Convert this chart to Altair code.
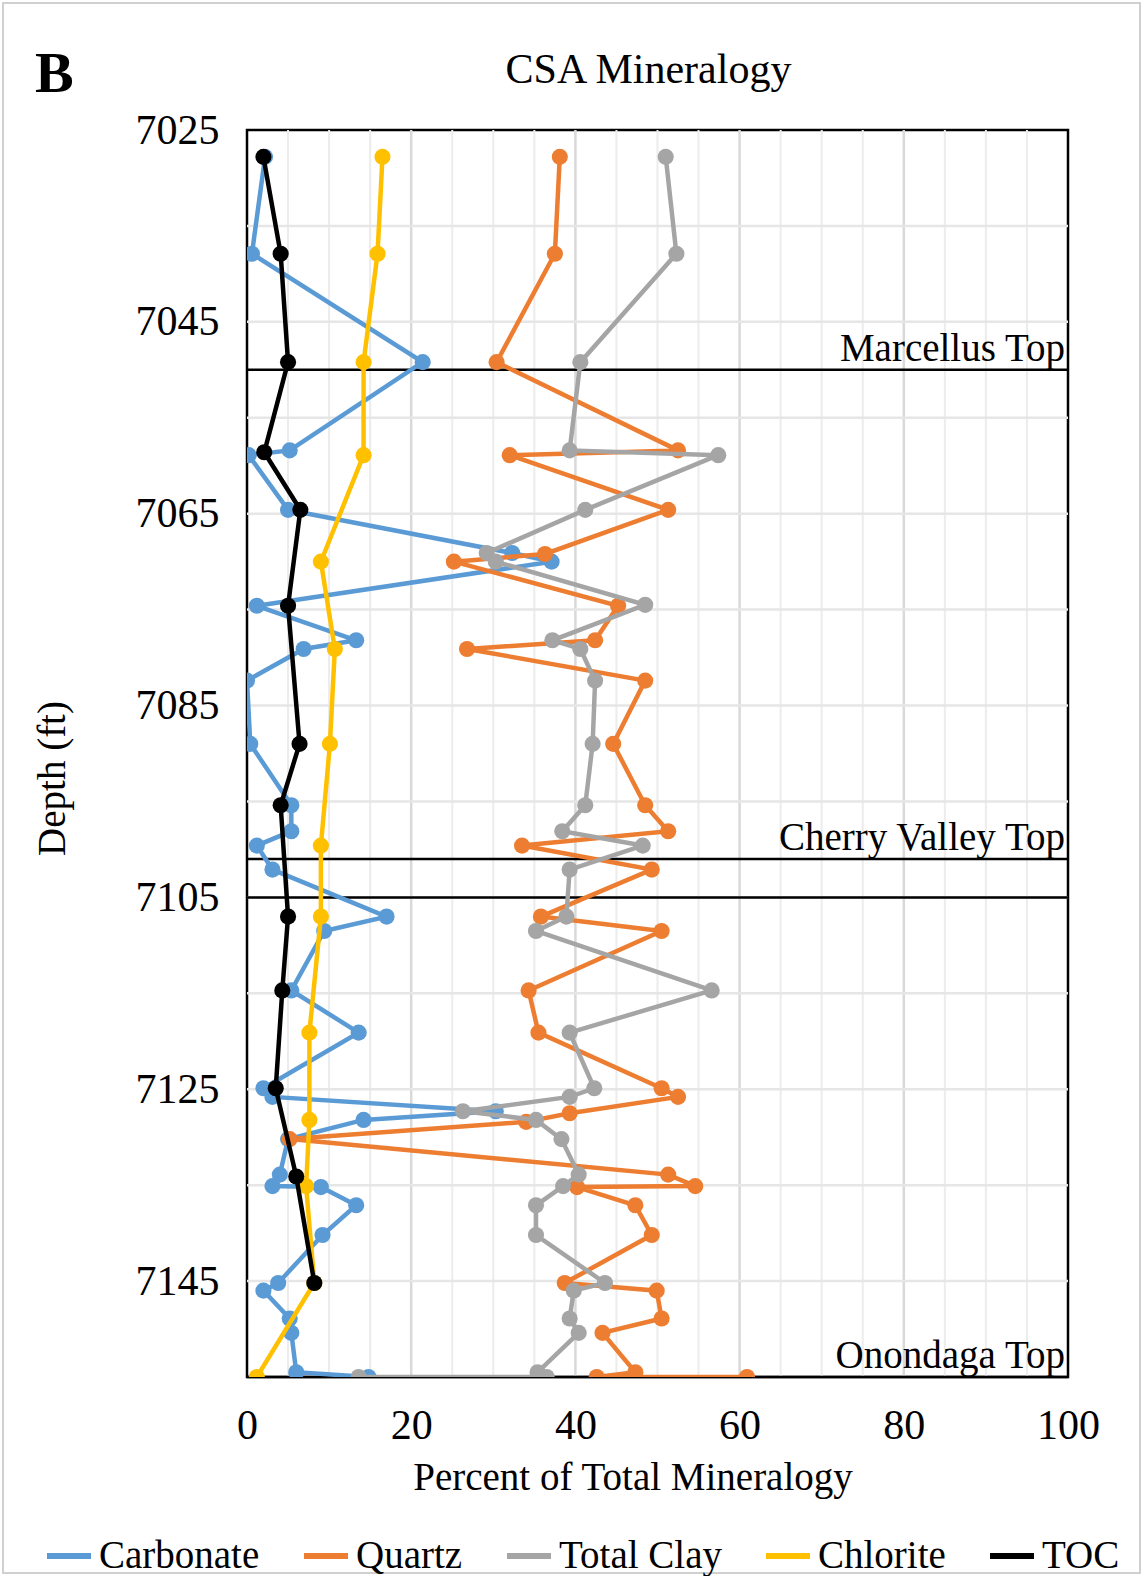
import altair as alt
import pandas as pd

# ---------------- data ----------------
SERIES = ["Carbonate", "Quartz", "Total Clay", "Chlorite", "TOC"]
COLORS = ["#5B9BD5", "#ED7D31", "#A5A5A5", "#FFC000", "#000000"]

carb_depth = [7027.8, 7037.9, 7049.2, 7058.4, 7058.9, 7064.6, 7069.1, 7070.0, 7074.6, 7078.2,
              7079.1, 7082.4, 7089.0, 7095.4, 7098.1, 7099.6, 7102.1, 7107.0, 7108.5, 7114.7,
              7119.1, 7124.9, 7125.8, 7127.3, 7128.2, 7130.2, 7133.9, 7135.1, 7135.2, 7137.1,
              7140.2, 7145.2, 7146.0, 7148.9, 7150.4, 7154.5, 7155.0]
carb_val = [2.2, 0.6, 21.4, 5.2, 0.2, 5.0, 32.3, 37.1, 1.2, 13.3,
            6.9, 0.0, 0.4, 5.4, 5.4, 1.2, 3.1, 17.0, 9.4, 5.4,
            13.6, 2.0, 3.1, 30.3, 14.2, 5.0, 4.0, 3.1, 9.0, 13.3,
            9.2, 3.8, 2.0, 5.2, 5.4, 6.0, 14.8]

qtz_depth = [7027.8, 7037.9, 7049.2, 7058.4, 7058.9, 7064.6, 7069.2, 7070.0, 7074.6, 7078.2,
             7079.1, 7082.4, 7089.0, 7095.4, 7098.1, 7099.6, 7102.1, 7107.0, 7108.5, 7114.7,
             7119.1, 7124.9, 7125.8, 7127.5, 7128.4, 7130.2, 7133.9, 7135.1, 7135.2, 7137.1,
             7140.2, 7145.2, 7146.0, 7148.9, 7150.4, 7154.5, 7155.0, 7155.0]
qtz_val = [38.1, 37.5, 30.4, 52.5, 32.0, 51.3, 36.3, 25.2, 45.2, 42.4,
           26.8, 48.5, 44.6, 48.5, 51.3, 33.5, 49.3, 35.8, 50.5, 34.3,
           35.5, 50.5, 52.5, 39.3, 34.0, 5.2, 51.3, 54.6, 40.2, 47.3,
           49.3, 38.7, 49.9, 50.5, 43.3, 47.3, 42.6, 60.9]

clay_depth = [7027.8, 7037.9, 7049.2, 7058.4, 7058.9, 7064.6, 7069.1, 7070.0, 7074.5, 7078.2,
              7079.1, 7082.4, 7089.0, 7095.4, 7098.1, 7099.6, 7102.1, 7107.0, 7108.5, 7114.7,
              7119.1, 7124.9, 7125.8, 7127.3, 7128.2, 7130.2, 7133.9, 7135.1, 7137.1, 7140.2,
              7145.2, 7146.0, 7148.9, 7150.4, 7154.5, 7155.0, 7155.0]
clay_val = [51.0, 52.3, 40.6, 39.3, 57.4, 41.2, 29.2, 30.3, 48.5, 37.2,
            40.6, 42.4, 42.1, 41.2, 38.4, 48.2, 39.3, 38.9, 35.2, 56.6,
            39.3, 42.3, 39.3, 26.3, 35.2, 38.3, 40.4, 38.5, 35.2, 35.2,
            43.6, 39.8, 39.3, 40.4, 35.4, 36.5, 13.6]

chl_depth = [7027.8, 7037.9, 7049.2, 7058.9, 7070.0, 7079.1, 7089.0, 7099.6, 7107.0, 7119.1,
             7128.2, 7135.1, 7145.2, 7155.0]
chl_val = [16.5, 15.9, 14.2, 14.2, 9.0, 10.7, 10.1, 9.0, 9.0, 7.6,
           7.6, 7.2, 8.2, 1.2]

toc_depth = [7027.8, 7037.9, 7049.2, 7058.6, 7064.6, 7074.6, 7089.0, 7095.4, 7107.0, 7114.7,
             7124.9, 7134.1, 7145.2]
toc_val = [2.0, 4.1, 5.0, 2.1, 6.5, 5.0, 6.4, 4.1, 5.0, 4.3,
           3.5, 6.0, 8.2]

formation_depth = [7050, 7101, 7105, 7155]
formation_name = ["Marcellus Top", "Cherry Valley Top", "", "Onondaga Top"]

x_ticks = [0, 20, 40, 60, 80, 100]
x_minor = [5, 10, 15, 25, 30, 35, 45, 50, 55, 65, 70, 75, 85, 90, 95]
x_major_grid = [20, 40, 60, 80]
y_ticks = [7025, 7045, 7065, 7085, 7105, 7125, 7145]
y_grid = [7035, 7045, 7055, 7065, 7075, 7085, 7095, 7105, 7115, 7125, 7135, 7145]

# ---------------- build tables ----------------
series_data = {
    "Carbonate": (carb_depth, carb_val),
    "Quartz": (qtz_depth, qtz_val),
    "Total Clay": (clay_depth, clay_val),
    "Chlorite": (chl_depth, chl_val),
    "TOC": (toc_depth, toc_val),
}

FONT = "Liberation Serif"
W, H = 821, 1247

xs = alt.Scale(domain=[0, 100], nice=False, zero=False)
ys = alt.Scale(domain=[7025, 7155], reverse=True, nice=False, zero=False)
cs = alt.Scale(domain=SERIES, range=COLORS)

x_axis = alt.Axis(values=x_ticks, title="Percent of Total Mineralogy", grid=False, ticks=False,
                  domain=False, labelFont=FONT, labelFontSize=42, labelColor="#000",
                  labelPadding=28, labelFlush=False, labelOverlap=False, format="d",
                  titleFont=FONT, titleFontSize=39, titleFontWeight="normal", titleColor="#000",
                  titleX=385.5, titleY=112, titleAlign="center", titleBaseline="alphabetic")
y_axis = alt.Axis(values=y_ticks, title="Depth (ft)", grid=False, ticks=False, domain=False,
                  labelFont=FONT, labelFontSize=42, labelColor="#000", labelPadding=28,
                  labelFlush=False, labelOverlap=False, format="d",
                  titleFont=FONT, titleFontSize=39, titleFontWeight="normal", titleColor="#000",
                  titleAngle=270, titleX=-195, titleY=648, titleAlign="center",
                  titleBaseline="middle")


def X(field):
    return alt.X(field, scale=xs, axis=x_axis)


def Y(field):
    return alt.Y(field, scale=ys, axis=y_axis)


one = pd.DataFrame({"k": [0]})

frame = alt.Chart(one).mark_rect(fillOpacity=0, stroke="#D0D0D0", strokeWidth=2).encode(
    x=alt.value(-244), x2=alt.value(1140 - 247), y=alt.value(-127), y2=alt.value(1573 - 130))

gx_minor = alt.Chart(pd.DataFrame({"g": x_minor})).mark_rule(color="#ECECEC", strokeWidth=2).encode(
    x=X("g:Q"))
gx_major = alt.Chart(pd.DataFrame({"g": x_major_grid})).mark_rule(color="#D9D9D9", strokeWidth=2.5).encode(
    x=X("g:Q"))
gy = alt.Chart(pd.DataFrame({"g": y_grid})).mark_rule(color="#E6E6E6", strokeWidth=2.5).encode(
    y=Y("g:Q"))

tops = pd.DataFrame({"Depth": formation_depth, "Name": formation_name})
top_lines = alt.Chart(tops).mark_rule(color="#000", strokeWidth=2.5).encode(y=Y("Depth:Q"))
top_text = alt.Chart(tops).mark_text(font=FONT, fontSize=39, align="right", baseline="alphabetic",
                                     dy=-9, color="#000").encode(
    x=alt.value(W - 3), y=Y("Depth:Q"), text="Name:N")

layers = [frame, gx_minor, gx_major, gy, top_lines]

legend = alt.Legend(orient="none", legendX=-203, legendY=1401, direction="horizontal", title=None,
                    symbolType="stroke", symbolSize=1936, symbolStrokeWidth=6,
                    labelFont=FONT, labelFontSize=39, labelColor="#000", labelOffset=5,
                    columnPadding=32, padding=0, labelLimit=0)

for i, name in enumerate(SERIES):
    d, v = series_data[name]
    df = pd.DataFrame({"Depth": d, "Value": v, "Series": name, "idx": list(range(len(d)))})
    enc = dict(x=X("Value:Q"), y=Y("Depth:Q"), order=alt.Order("idx:Q"))
    line = alt.Chart(df).mark_line(strokeWidth=4.5, clip=True).encode(
        color=alt.Color("Series:N", scale=cs, legend=legend), **enc)
    pts = alt.Chart(df).mark_circle(size=260, opacity=1, clip=True).encode(
        color=alt.Color("Series:N", scale=cs, legend=legend), **enc)
    layers += [line, pts]

title_txt = alt.Chart(pd.DataFrame({"t": ["CSA Mineralogy"]})).mark_text(
    font=FONT, fontSize=42, align="center", baseline="alphabetic", color="#000").encode(
    text="t:N", x=alt.value(648.5 - 247), y=alt.value(83 - 130))
b_txt = alt.Chart(pd.DataFrame({"t": ["B"]})).mark_text(
    font=FONT, fontSize=58, fontWeight="bold", align="left", baseline="alphabetic", color="#000").encode(
    text="t:N", x=alt.value(35 - 247), y=alt.value(92 - 130))

layers += [top_text, title_txt, b_txt]

chart = alt.layer(*layers).properties(
    width=W, height=H,
    padding={"left": 247, "top": 130, "right": 1144 - 247 - W, "bottom": 1576 - 130 - H},
    autosize=alt.AutoSizeParams(type="none"),
    background="white",
).configure_view(stroke="#000", strokeWidth=2.5)

chart.save("out.html", embed_options={"renderer": "svg", "actions": False})
